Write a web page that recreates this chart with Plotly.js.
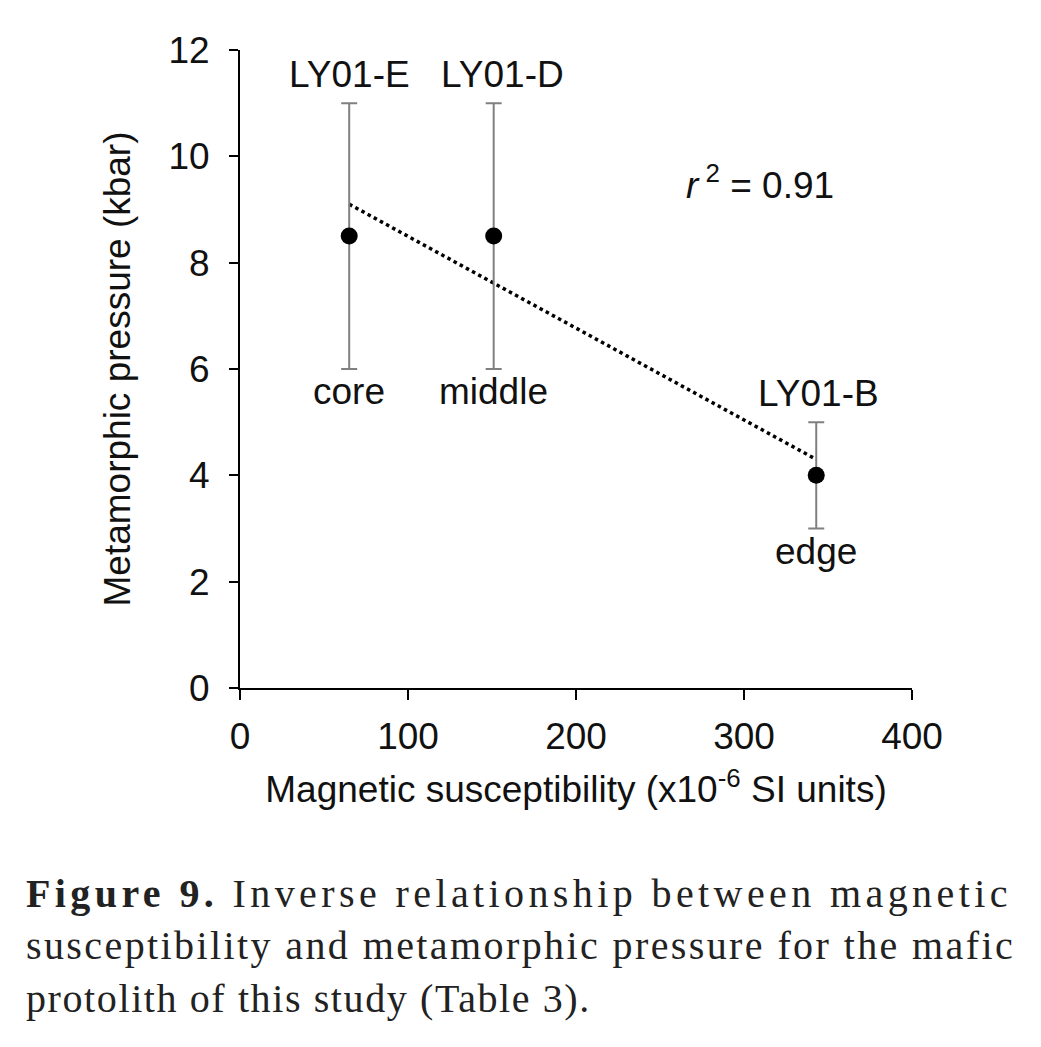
<!DOCTYPE html>
<html>
<head>
<meta charset="utf-8">
<script src="https://cdn.plot.ly/plotly-3.0.1.min.js"></script>
<style>html,body{margin:0;padding:0;background:#fff;}#chart{width:1041px;height:1047px;}</style>
</head>
<body>
<div id="chart"></div>
<script>
// Data
const sampleNames = ["LY01-E", "LY01-D", "LY01-B"];
const zoneNames = ["core", "middle", "edge"];
const susceptibility = [65, 151, 343];
const pressure = [8.5, 8.5, 4.0];
const errPlus = [2.5, 2.5, 1.0];
const errMinus = [2.5, 2.5, 1.0];
const trendX = [65, 343];
const trendY = [9.1, 4.3];
const rSquared = "0.91";
const xTicks = [0, 100, 200, 300, 400];
const yTicks = [0, 2, 4, 6, 8, 10, 12];
const captionLines = [
  "<b>Figure 9.</b> Inverse relationship between magnetic",
  "susceptibility and metamorphic pressure for the mafic",
  "protolith of this study (Table 3)."
];

const font = "Liberation Sans, Arial, sans-serif";
const serif = "Liberation Serif, Times New Roman, serif";
const fs = 37;

const traces = [
  {
    x: trendX, y: trendY, type: "scatter", mode: "lines",
    line: {color: "#000", width: 3.5, dash: "dot"},
    hoverinfo: "skip", showlegend: false
  },
  {
    x: susceptibility, y: pressure, type: "scatter", mode: "markers",
    marker: {color: "#000", size: 17},
    error_y: {type: "data", symmetric: false, array: errPlus, arrayminus: errMinus,
      color: "#808080", thickness: 2, width: 8},
    showlegend: false
  }
];

const annotations = [];
const nameShift = [0, 9, 2];
for (let i = 0; i < sampleNames.length; i++) {
  annotations.push({
    x: susceptibility[i], y: pressure[i] + errPlus[i], xref: "x", yref: "y",
    text: sampleNames[i], showarrow: false, yanchor: "bottom", yshift: 6, xshift: nameShift[i],
    font: {family: font, size: fs, color: "#111"}
  });
  annotations.push({
    x: susceptibility[i], y: pressure[i] - errMinus[i], xref: "x", yref: "y",
    text: zoneNames[i], showarrow: false, yanchor: "top", yshift: 0,
    font: {family: font, size: fs, color: "#111"}
  });
}
annotations.push({
  x: 264, y: 9.5, xref: "x", yref: "y", xanchor: "left",
  text: "<i>r</i><sup> 2</sup> = " + rSquared, showarrow: false,
  font: {family: font, size: fs, color: "#111"}
});
// caption, placed in figure pixels converted to paper fractions of the plot area
const plotL = 240, plotW = 672, plotB = 688, plotH = 638;
const capY = [893, 945, 998];
const capSpacing = ["4.4px", "2.4px", "1.6px"];
for (let i = 0; i < captionLines.length; i++) {
  annotations.push({
    x: (24 - plotL) / plotW, y: (plotB - capY[i]) / plotH, xref: "paper", yref: "paper",
    xanchor: "left", yanchor: "middle", align: "left",
    text: '<span style="letter-spacing:' + capSpacing[i] + '">' + captionLines[i] + '</span>',
    showarrow: false,
    font: {family: serif, size: 40, color: "#222"}
  });
}

const layout = {
  width: 1041, height: 1047,
  margin: {l: 240, r: 129, t: 50, b: 359},
  paper_bgcolor: "#fff", plot_bgcolor: "#fff",
  showlegend: false,
  font: {family: font, color: "#111"},
  xaxis: {
    range: [0, 400], tickvals: xTicks, ticktext: xTicks.map(String),
    showgrid: false, zeroline: false, showline: true, linecolor: "#000", linewidth: 2,
    ticks: "outside", ticklen: 10, tickwidth: 2, tickcolor: "#000",
    tickfont: {family: font, size: fs, color: "#111"}, ticklabelstandoff: 5,
    title: {text: "Magnetic susceptibility (x10<sup>-6</sup> SI units)", font: {family: font, size: fs, color: "#111"}, standoff: 20},
    fixedrange: true
  },
  yaxis: {
    range: [0, 12], tickvals: yTicks, ticktext: yTicks.map(String),
    showgrid: false, zeroline: false, showline: true, linecolor: "#000", linewidth: 2,
    ticks: "outside", ticklen: 9, tickwidth: 2, tickcolor: "#000",
    tickfont: {family: font, size: fs, color: "#111"}, ticklabelstandoff: 12,
    title: {text: "Metamorphic pressure (kbar)", font: {family: font, size: fs, color: "#111"}, standoff: 26},
    fixedrange: true
  },
  annotations: annotations
};

Plotly.newPlot("chart", traces, layout, {staticPlot: true, displayModeBar: false});
</script>
</body>
</html>
